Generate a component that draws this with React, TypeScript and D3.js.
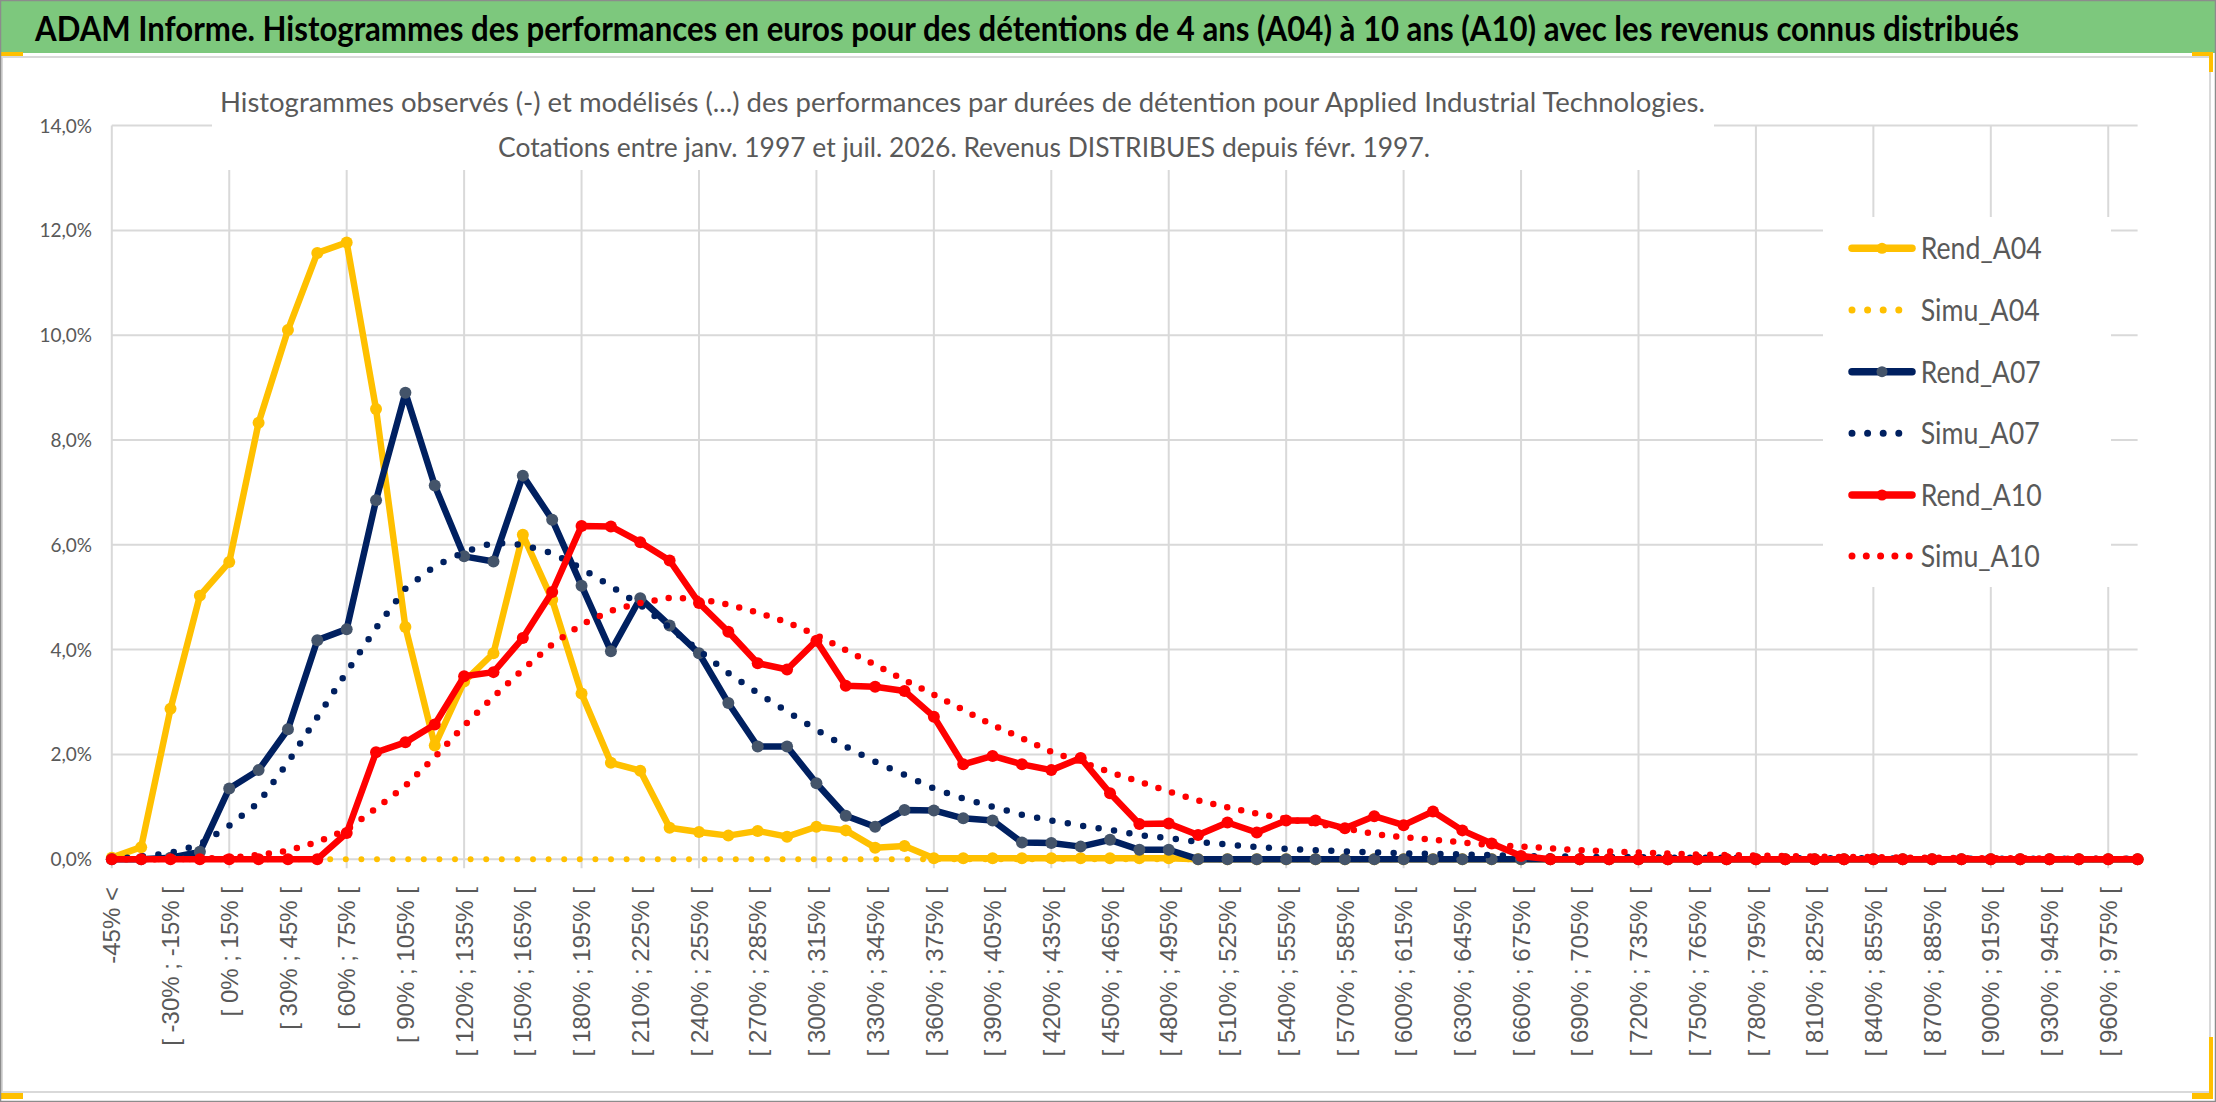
import React from "react";
import * as d3 from "d3";

// ---------- DATA ----------
const categories: string[] = [
  "-45% <",
  "[ -45% ; -30% [", "[ -30% ; -15% [", "[ -15% ; 0% [", "[ 0% ; 15% [", "[ 15% ; 30% [",
  "[ 30% ; 45% [", "[ 45% ; 60% [", "[ 60% ; 75% [", "[ 75% ; 90% [", "[ 90% ; 105% [",
  "[ 105% ; 120% [", "[ 120% ; 135% [", "[ 135% ; 150% [", "[ 150% ; 165% [", "[ 165% ; 180% [",
  "[ 180% ; 195% [", "[ 195% ; 210% [", "[ 210% ; 225% [", "[ 225% ; 240% [", "[ 240% ; 255% [",
  "[ 255% ; 270% [", "[ 270% ; 285% [", "[ 285% ; 300% [", "[ 300% ; 315% [", "[ 315% ; 330% [",
  "[ 330% ; 345% [", "[ 345% ; 360% [", "[ 360% ; 375% [", "[ 375% ; 390% [", "[ 390% ; 405% [",
  "[ 405% ; 420% [", "[ 420% ; 435% [", "[ 435% ; 450% [", "[ 450% ; 465% [", "[ 465% ; 480% [",
  "[ 480% ; 495% [", "[ 495% ; 510% [", "[ 510% ; 525% [", "[ 525% ; 540% [", "[ 540% ; 555% [",
  "[ 555% ; 570% [", "[ 570% ; 585% [", "[ 585% ; 600% [", "[ 600% ; 615% [", "[ 615% ; 630% [",
  "[ 630% ; 645% [", "[ 645% ; 660% [", "[ 660% ; 675% [", "[ 675% ; 690% [", "[ 690% ; 705% [",
  "[ 705% ; 720% [", "[ 720% ; 735% [", "[ 735% ; 750% [", "[ 750% ; 765% [", "[ 765% ; 780% [",
  "[ 780% ; 795% [", "[ 795% ; 810% [", "[ 810% ; 825% [", "[ 825% ; 840% [", "[ 840% ; 855% [",
  "[ 855% ; 870% [", "[ 870% ; 885% [", "[ 885% ; 900% [", "[ 900% ; 915% [", "[ 915% ; 930% [",
  "[ 930% ; 945% [", "[ 945% ; 960% [", "[ 960% ; 975% [", "[ 975% ; 990% [",
];

const rendA04: number[] = [
  0.03, 0.23, 2.87, 5.03, 5.67, 8.33, 10.1, 11.57, 11.77, 8.59,
  4.43, 2.17, 3.39, 3.93, 6.19, 4.95, 3.16, 1.84, 1.69, 0.6,
  0.52, 0.45, 0.54, 0.43, 0.62, 0.55, 0.22, 0.25, 0.02, 0.02,
  0.02, 0.02, 0.02, 0.02, 0.02, 0.02, 0.02, 0, 0, 0,
  0, 0, 0, 0, 0, 0, 0, 0, 0, 0,
  0, 0, 0, 0, 0, 0, 0, 0, 0, 0,
  0, 0, 0, 0, 0, 0, 0, 0, 0, 0,
];

const simuA04: number[] = [
  0, 0, 0, 0, 0, 0, 0, 0, 0, 0,
  0, 0, 0, 0, 0, 0, 0, 0, 0, 0,
  0, 0, 0, 0, 0, 0, 0, 0, 0, 0,
  0, 0, 0, 0, 0, 0, 0, 0, 0, 0,
  0, 0, 0, 0, 0, 0, 0, 0, 0, 0,
  0, 0, 0, 0, 0, 0, 0, 0, 0, 0,
  0, 0, 0, 0, 0, 0, 0, 0, 0, 0,
];

const rendA07: number[] = [
  0, 0, 0.03, 0.14, 1.35, 1.7, 2.48, 4.18, 4.39, 6.85,
  8.9, 7.13, 5.78, 5.68, 7.32, 6.48, 5.22, 3.97, 4.98, 4.46,
  3.93, 2.98, 2.15, 2.15, 1.45, 0.83, 0.62, 0.94, 0.93, 0.78,
  0.74, 0.32, 0.31, 0.24, 0.37, 0.18, 0.18, 0, 0, 0,
  0, 0, 0, 0, 0, 0, 0, 0, 0, 0,
  0, 0, 0, 0, 0, 0, 0, 0, 0, 0,
  0, 0, 0, 0, 0, 0, 0, 0, 0, 0,
];

const simuA07: number[] = [
  0, 0.05, 0.12, 0.28, 0.64, 1.08, 1.85, 2.71, 3.57, 4.41,
  5.16, 5.59, 5.86, 6.04, 6.0, 5.84, 5.55, 5.21, 4.85, 4.42,
  3.98, 3.55, 3.17, 2.82, 2.47, 2.15, 1.86, 1.61, 1.35, 1.16,
  1.0, 0.85, 0.74, 0.64, 0.56, 0.46, 0.4, 0.33, 0.28, 0.23,
  0.2, 0.17, 0.15, 0.13, 0.11, 0.1, 0.09, 0.08, 0.06, 0.05,
  0.05, 0.04, 0.04, 0.03, 0.03, 0.03, 0.02, 0.02, 0.02, 0.02,
  0.02, 0.01, 0.01, 0.01, 0.01, 0.01, 0.01, 0.01, 0.01, 0.01,
];

const rendA10: number[] = [
  0, 0, 0, 0, 0, 0, 0, 0, 0.5, 2.04,
  2.23, 2.57, 3.49, 3.57, 4.22, 5.1, 6.36, 6.35, 6.05, 5.7,
  4.89, 4.34, 3.74, 3.62, 4.17, 3.31, 3.29, 3.21, 2.72, 1.81,
  1.97, 1.81, 1.7, 1.93, 1.26, 0.67, 0.68, 0.46, 0.7, 0.51,
  0.74, 0.74, 0.59, 0.82, 0.65, 0.91, 0.55, 0.3, 0.06, 0,
  0, 0, 0, 0, 0, 0, 0, 0, 0, 0,
  0, 0, 0, 0, 0, 0, 0, 0, 0, 0,
];

const simuA10: number[] = [
  0, 0, 0, 0.01, 0.03, 0.08, 0.16, 0.33, 0.56, 0.97,
  1.4, 1.95, 2.55, 3.1, 3.62, 4.1, 4.48, 4.74, 4.89, 4.99,
  4.97, 4.86, 4.71, 4.52, 4.28, 3.99, 3.71, 3.42, 3.14, 2.85,
  2.56, 2.31, 2.05, 1.86, 1.66, 1.48, 1.29, 1.12, 0.99, 0.87,
  0.77, 0.68, 0.59, 0.48, 0.42, 0.37, 0.32, 0.27, 0.24, 0.21,
  0.17, 0.15, 0.13, 0.11, 0.09, 0.08, 0.07, 0.06, 0.05, 0.04,
  0.04, 0.03, 0.03, 0.02, 0.02, 0.02, 0.01, 0.01, 0.01, 0.01,
];

const yTickValues: number[] = [0, 2, 4, 6, 8, 10, 12, 14];
const yTickLabels: string[] = ["0,0%", "2,0%", "4,0%", "6,0%", "8,0%", "10,0%", "12,0%", "14,0%"];

const seriesNames: string[] = ["Rend_A04", "Simu_A04", "Rend_A07", "Simu_A07", "Rend_A10", "Simu_A10"];

const title =
  "ADAM Informe. Histogrammes des performances en euros pour des détentions de 4 ans (A04) à 10 ans (A10) avec les revenus connus distribués";
const subtitle1 =
  "Histogrammes observés (-) et modélisés (...) des performances par durées de détention pour Applied Industrial Technologies.";
const subtitle2 = "Cotations entre janv. 1997 et juil. 2026. Revenus DISTRIBUES depuis févr. 1997.";

// ---------- STYLE / LAYOUT ----------
const W = 2216;
const H = 1102;
const PL = 111.8;
const PR = 2137.6;
const PT = 125.6;
const PB = 859.2;
const GRID = "#D9D9D9";
const TXT = "#595959";
const YELLOW = "#FFC000";
const NAVY = "#002060";
const NAVY_MK = "#44546A";
const RED = "#FF0000";

type Style = {
  color: string;
  marker: string | null;
  dotted: boolean;
  width: number;
  period: number;
};

const styles: Style[] = [
  { color: YELLOW, marker: YELLOW, dotted: false, width: 6.5, period: 0 },
  { color: YELLOW, marker: null, dotted: true, width: 6, period: 15.6 },
  { color: NAVY, marker: NAVY_MK, dotted: false, width: 6.5, period: 0 },
  { color: NAVY, marker: null, dotted: true, width: 6.5, period: 15.6 },
  { color: RED, marker: RED, dotted: false, width: 6.5, period: 0 },
  { color: RED, marker: null, dotted: true, width: 6.5, period: 14.3 },
];

const seriesValues: number[][] = [rendA04, simuA04, rendA07, simuA07, rendA10, simuA10];

export default function App() {
  const x = d3.scalePoint<string>().domain(categories).range([PL, PR]);
  const y = d3.scaleLinear().domain([0, 14]).range([PB, PT]);

  const line = d3
    .line<number>()
    .x((_, i) => x(categories[i]) as number)
    .y((v) => y(v));

  const vGridIdx = categories.map((_, i) => i).filter((i) => i % 4 === 0);
  const labelIdx = categories.map((_, i) => i).filter((i) => i % 2 === 0);

  const legendY = [248.3, 310, 371.7, 433.3, 495, 556];
  const legendTextLen = [121, 119, 120, 119, 121, 119];

  return (
    <div>
      <style>{"html,body{margin:0;padding:0;background:#fff;}"}</style>
      <svg width={W} height={H} style={{ display: "block" }} xmlns="http://www.w3.org/2000/svg">
        <rect x={0} y={0} width={W} height={H} fill="#ffffff" />
        {/* chart area border */}
        <rect x={2} y={57} width={2208} height={1035} fill="none" stroke={GRID} strokeWidth={2} />
        {/* banner */}
        <rect x={0} y={0} width={W} height={53} fill="#7DC87D" />
        <text
          x={35}
          y={41}
          fontFamily="Lato, 'Open Sans', sans-serif"
          fontWeight={700}
          fontSize={34}
          fill="#000"
          textLength={1984}
          lengthAdjust="spacingAndGlyphs"
        >
          {title}
        </text>

        {/* gridlines */}
        {yTickValues.map((v) => (
          <line key={"h" + v} x1={PL} x2={PR} y1={y(v)} y2={y(v)} stroke={GRID} strokeWidth={2} />
        ))}
        {vGridIdx.map((i) => (
          <line
            key={"v" + i}
            x1={x(categories[i])}
            x2={x(categories[i])}
            y1={PT}
            y2={PB + 9}
            stroke={GRID}
            strokeWidth={2}
          />
        ))}

        {/* subtitle box */}
        <rect x={212} y={95} width={1502} height={75} fill="#fff" />
        <text
          x={220}
          y={111.7}
          fontFamily="Lato, 'Open Sans', sans-serif"
          fontSize={26}
          fill={TXT}
          textLength={1485}
          lengthAdjust="spacingAndGlyphs"
        >
          {subtitle1}
        </text>
        <text
          x={498}
          y={156.7}
          fontFamily="Lato, 'Open Sans', sans-serif"
          fontSize={26}
          fill={TXT}
          textLength={932}
          lengthAdjust="spacingAndGlyphs"
        >
          {subtitle2}
        </text>

        {/* y axis labels */}
        {yTickValues.map((v, k) => (
          <text
            key={"yl" + v}
            x={92}
            y={y(v) + 7}
            textAnchor="end"
            fontFamily="Lato, 'Open Sans', sans-serif"
            fontSize={19}
            fill={TXT}
          >
            {yTickLabels[k]}
          </text>
        ))}

        {/* category labels */}
        {labelIdx.map((i) => (
          <text
            key={"cl" + i}
            transform={`translate(${x(categories[i])},887) rotate(-90)`}
            dy="0.36em"
            textAnchor="end"
            fontFamily="'Liberation Sans', Arial, sans-serif"
            fontSize={24}
            fill={TXT}
          >
            {categories[i]}
          </text>
        ))}

        {/* series */}
        {seriesValues.map((vals, s) => {
          const st = styles[s];
          return (
            <g key={"s" + s}>
              <path
                d={line(vals) as string}
                fill="none"
                stroke={st.color}
                strokeWidth={st.width}
                strokeLinejoin="round"
                strokeLinecap="round"
                strokeDasharray={st.dotted ? `0 ${st.period}` : undefined}
              />
              {st.marker &&
                vals.map((v, i) => (
                  <circle
                    key={i}
                    cx={x(categories[i])}
                    cy={y(v)}
                    r={6}
                    fill={st.marker as string}
                  />
                ))}
            </g>
          );
        })}

        {/* legend */}
        <rect x={1823} y={217} width={288} height={370} fill="#fff" />
        {seriesNames.map((name, s) => {
          const st = styles[s];
          const cy = legendY[s];
          return (
            <g key={"lg" + s}>
              {st.dotted ? (
                <line
                  x1={1852}
                  x2={st.period < 15 ? 1912 : 1905}
                  y1={cy}
                  y2={cy}
                  stroke={st.color}
                  strokeWidth={7}
                  strokeLinecap="round"
                  strokeDasharray={`0 ${st.period}`}
                />
              ) : (
                <>
                  <line x1={1852} x2={1912} y1={cy} y2={cy} stroke={st.color} strokeWidth={7.5} strokeLinecap="round" />
                  <circle cx={1882} cy={cy} r={5.5} fill={st.marker as string} />
                </>
              )}
              <text
                x={1920.7}
                y={cy + 11}
                fontFamily="Lato, 'Open Sans', sans-serif"
                fontSize={30}
                fill={TXT}
                textLength={legendTextLen[s]}
                lengthAdjust="spacingAndGlyphs"
              >
                {name}
              </text>
            </g>
          );
        })}

        {/* selection handles */}
        <rect x={0} y={52} width={23} height={4} fill={YELLOW} />
        <rect x={2192} y={52} width={21} height={4} fill={YELLOW} />
        <rect x={2209} y={52} width={4} height={20} fill={YELLOW} />
        <rect x={0} y={1093} width={23} height={6} fill={YELLOW} />
        <rect x={2192} y={1093} width={21} height={6} fill={YELLOW} />
        <rect x={2209} y={1037} width={4} height={62} fill={YELLOW} />

        {/* outer frame */}
        <rect x={0.5} y={0.5} width={W - 1} height={H - 1} fill="none" stroke="#8C8C8C" strokeWidth={1.5} />
      </svg>
    </div>
  );
}
